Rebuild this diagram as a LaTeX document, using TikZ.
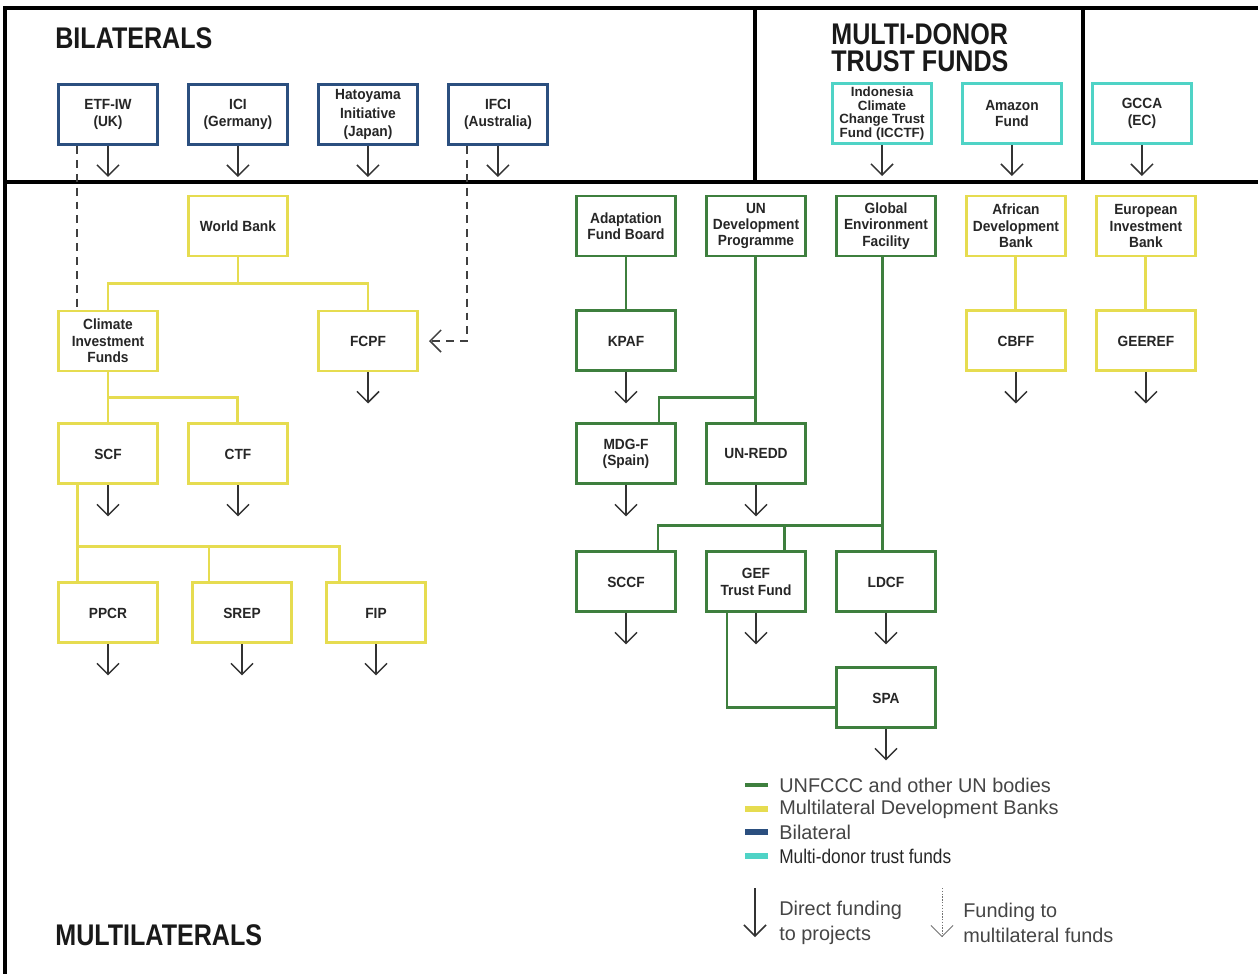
\documentclass[tikz,border=0pt]{standalone}
\usepackage{fontspec}
\usepackage{xcolor}
\usepackage{tikz}
\usetikzlibrary{arrows.meta, positioning}
\setmainfont{Liberation Sans}
\newfontfamily\headfont{Liberation Sans}[FakeStretch=0.84]
\newfontfamily\boxfont{Liberation Sans}[FakeStretch=0.93]
\newfontfamily\keyfont{Liberation Sans}[FakeStretch=0.87]
\definecolor{bilatblue}{HTML}{2B4F7F}
\definecolor{mdtfcyan}{HTML}{4FD3C6}
\definecolor{mdbyellow}{HTML}{E6DC50}
\definecolor{ungreen}{HTML}{3E7F3E}
\definecolor{keygray}{HTML}{454545}

\begin{document}
\begin{tikzpicture}[node distance=0.56cm]
    % Define styles
    \tikzstyle{box} = [draw, rectangle, line width=1.7pt, minimum width=1.98cm, minimum height=1.2cm, inner sep=1pt, align=center, fill=white, text=black!85, font={\boxfont\bfseries\fontsize{8.4}{9.3}\selectfont}]
    \tikzstyle{bilat} = [box, draw=bilatblue]
    \tikzstyle{mdtf} = [box, draw=mdtfcyan]
    \tikzstyle{mdb} = [box, draw=mdbyellow]
    \tikzstyle{unbox} = [box, draw=ungreen]
    \tikzstyle{frame} = [line width=2pt, black]
    \tikzstyle{title} = [inner sep=0pt, text=black!90, font={\headfont\bfseries\fontsize{17}{15.4}\selectfont}]
    \tikzstyle{keytext} = [inner sep=0pt, anchor=west, align=left, text=keygray, font={\fontsize{11.3}{14.2}\selectfont}]
    \tikzstyle{mdbline} = [line width=1.7pt, mdbyellow]
    \tikzstyle{unline} = [line width=1.7pt, ungreen]
    \tikzstyle{direct} = [-{Straight Barb[length=0.22cm, width=0.44cm]}, line width=0.85pt, black!80]
    \tikzstyle{tofund} = [-{Straight Barb[length=0.22cm, width=0.44cm]}, line width=0.85pt, black!75, dash pattern=on 4.5pt off 3.4pt]

    \fill[white] (0,0) rectangle (25.16,-19.48);
    \useasboundingbox (0,0) rectangle (25.16,-19.48);

    % FRAME
    \draw[frame] (0.1,-19.48) -- (0.1,-0.16) -- (25.16,-0.16);
    \draw[frame] (0.1,-3.64) -- (25.16,-3.64);
    \draw[frame] (15.1,-0.16) -- (15.1,-3.64);
    \draw[frame] (21.66,-0.16) -- (21.66,-3.64);

    \node (bilat_title) [title, anchor=base west] at (1.1,-0.96) {BILATERALS};
    \node (mdtf_title) [title, anchor=north west, align=left] at (16.62,-0.46) {MULTI-DONOR\\TRUST FUNDS};
    \node (multi_title) [title, anchor=base west] at (1.1,-18.9) {MULTILATERALS};

    % BILATERALS
    \node (etf_iw) [bilat] at (2.16,-2.29) {ETF-IW\\(UK)};
    \node (ici) [bilat, right=of etf_iw] {ICI\\(Germany)};
    \node (hatoyama) [bilat, right=of ici, font={\boxfont\bfseries\fontsize{8.4}{10.4}\selectfont}] {Hatoyama\\Initiative\\(Japan)};
    \node (ifci) [bilat, right=of hatoyama] {IFCI\\(Australia)};

    % MULTI-DONOR TRUST FUNDS
    \node (icctf) [mdtf, font={\normalfont\bfseries\fontsize{7.6}{7.9}\selectfont}] at (17.64,-2.27) {Indonesia\\Climate\\Change Trust\\Fund (ICCTF)};
    \node (amazon) [mdtf, right=of icctf] {Amazon\\Fund};
    \node (gcca) [mdtf, right=of amazon] {GCCA\\(EC)};

    % WORLD BANK
    \node (world_bank) [mdb] at (4.76,-4.52) {World Bank};
    \node (cif) [mdb] at (2.16,-6.82) {Climate\\Investment\\Funds};
    \node (fcpf) [mdb] at (7.36,-6.82) {FCPF};
    \node (scf) [mdb, below=1cm of cif] {SCF};
    \node (ctf) [mdb, right=of scf] {CTF};
    \node (ppcr) [mdb, below=1.92cm of scf] {PPCR};
    \node (srep) [mdb, right=0.64cm of ppcr] {SREP};
    \node (fip) [mdb, right=0.64cm of srep] {FIP};

    % UN BODIES
    \node (afb) [unbox] at (12.52,-4.52) {Adaptation\\Fund Board};
    \node (undp) [unbox, right=of afb] {UN\\Development\\Programme};
    \node (gef) [unbox, right=of undp] {Global\\Environment\\Facility};
    \node (kpaf) [unbox, below=1.04cm of afb] {KPAF};
    \node (mdgf) [unbox, below=1cm of kpaf] {MDG-F\\(Spain)};
    \node (unredd) [unbox, right=of mdgf] {UN-REDD};
    \node (sccf) [unbox, below=1.3cm of mdgf] {SCCF};
    \node (geftf) [unbox, right=of sccf] {GEF\\Trust Fund};
    \node (ldcf) [unbox, right=of geftf] {LDCF};
    \node (spa) [unbox, below=1.06cm of ldcf] {SPA};

    % OTHER BANKS
    \node (afdb) [mdb, right=of gef] {African\\Development\\Bank};
    \node (eib) [mdb, right=of afdb] {European\\Investment\\Bank};
    \node (cbff) [mdb, below=1.04cm of afdb] {CBFF};
    \node (geeref) [mdb, below=1.04cm of eib] {GEEREF};

    % CONNECTIONS
    \draw[mdbline] (world_bank.south) -- ++(0,-0.52) -| (cif.north);
    \draw[mdbline] (world_bank.south) -- ++(0,-0.52) -| (fcpf.north);
    \draw[mdbline] (cif.south) -- (scf.north);
    \draw[mdbline] (cif.south) -- ++(0,-0.5) -| (ctf.north);
    \coordinate (scf_bus) at ([xshift=0.4cm, yshift=-1.22cm]scf.south west);
    \draw[mdbline] ([xshift=0.4cm]scf.south west) -- ([xshift=0.4cm]ppcr.north west);
    \draw[mdbline] (scf_bus) -| ([xshift=0.36cm]srep.north west);
    \draw[mdbline] (scf_bus) -| ([xshift=0.3cm]fip.north west);
    \draw[mdbline] (afdb) -- (cbff);
    \draw[mdbline] (eib) -- (geeref);

    \draw[unline] (afb) -- (kpaf);
    \draw[unline] (undp) -- (unredd);
    \coordinate (undp_bus) at ([yshift=0.5cm]unredd.north);
    \draw[unline] (undp_bus) -| ([xshift=-0.36cm]mdgf.north east);
    \draw[unline] ([xshift=-0.06cm]gef.south) -- ([xshift=-0.06cm]ldcf.north);
    \coordinate (gef_bus) at ([xshift=-0.06cm, yshift=0.5cm]ldcf.north);
    \draw[unline] (gef_bus) -| ([xshift=-0.38cm]sccf.north east);
    \draw[unline] (gef_bus) -| ([xshift=-0.44cm]geftf.north east);
    \draw[unline] ([xshift=0.44cm]geftf.south west) |- ([yshift=-0.2cm]spa.west);

    % Direct funding to projects
    \foreach \n in {etf_iw, ici, hatoyama, ifci, icctf, amazon, gcca, fcpf, scf, ctf, ppcr, srep, fip, kpaf, mdgf, unredd, sccf, geftf, ldcf, spa, cbff, geeref}
        \draw[direct] (\n.south) -- ++(0,-0.62);

    % Funding to multilateral funds
    \draw[tofund, -] ([xshift=0.4cm]etf_iw.south west) -- ([xshift=0.4cm]cif.north west);
    \draw[tofund] ([xshift=0.4cm]ifci.south west) |- ([xshift=0.2cm]fcpf.east);

    % LEGEND
    \node (key_un) [keytext] at (15.58,-15.7) {UNFCCC and other UN bodies};
    \node (key_mdb) [keytext] at (15.58,-16.18) {Multilateral Development Banks};
    \node (key_bilat) [keytext] at (15.58,-16.64) {Bilateral};
    \node (key_mdtf) [keytext, text=black!85, font={\keyfont\fontsize{11.3}{14.2}\selectfont}] at (15.58,-17.12) {Multi-donor trust funds};
    \draw[ungreen, line width=1.8pt] ([xshift=-0.22cm]key_un.west) -- ++(-0.46,0);
    \draw[mdbyellow, line width=3pt] ([xshift=-0.22cm]key_mdb.west) -- ++(-0.46,0);
    \draw[bilatblue, line width=3pt] ([xshift=-0.22cm]key_bilat.west) -- ++(-0.46,0);
    \draw[mdtfcyan, line width=3pt] ([xshift=-0.22cm]key_mdtf.west) -- ++(-0.46,0);

    \node (key_direct) [keytext] at (15.58,-18.45) {Direct funding\\to projects};
    \node (key_tofund) [keytext] at (19.26,-18.45) {Funding to\\multilateral funds};
    \draw[direct] ([xshift=-0.48cm, yshift=0.69cm]key_direct.west) -- ++(0,-0.98);
    \draw[direct, black!55, line width=0.5pt, dash pattern=on 0.8pt off 0.8pt] ([xshift=-0.42cm, yshift=0.69cm]key_tofund.west) -- ++(0,-0.98);

\end{tikzpicture}
\end{document}
